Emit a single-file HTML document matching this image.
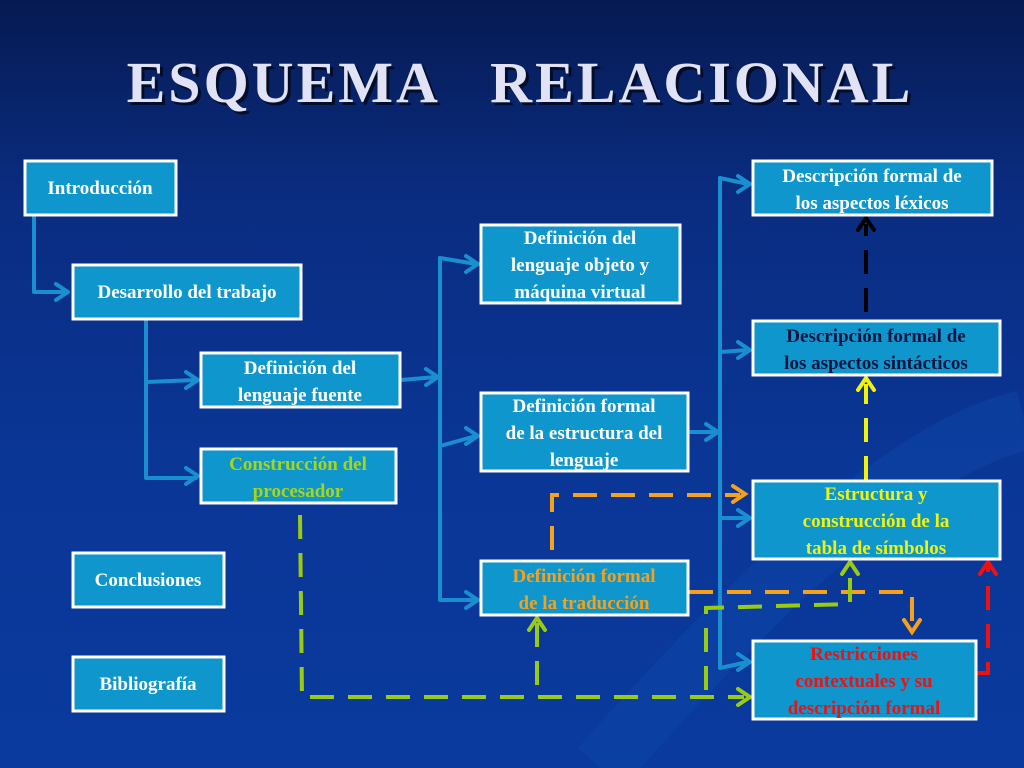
<!DOCTYPE html>
<html><head><meta charset="utf-8"><style>
html,body{margin:0;padding:0;width:1024px;height:768px;overflow:hidden}
body{background:linear-gradient(180deg,#061a52 0%,#0a2c80 25%,#0a3696 60%,#0a3a9e 100%)}
svg{position:absolute;left:0;top:0}
text{font-family:"Liberation Serif",serif;font-weight:bold}
</style></head><body>
<svg width="1024" height="768" viewBox="0 0 1024 768">
<path d="M600,768 C750,600 900,450 1024,420" stroke="#0c45a8" stroke-width="60" fill="none" opacity="0.5"/>
<text x="520" y="102" text-anchor="middle" font-size="58" fill="#000" opacity="0.6" letter-spacing="3" transform="translate(3,3)" xml:space="preserve">ESQUEMA   RELACIONAL</text>
<text x="520" y="102" text-anchor="middle" font-size="58" fill="#e2e2f6" letter-spacing="3" xml:space="preserve">ESQUEMA   RELACIONAL</text>

<g stroke="#1a8fd0" stroke-width="4" fill="none" stroke-linejoin="round" stroke-linecap="round">
<path d="M34,216 V292 H66"/><path d="M56,284 L68,292 L56,300"/>
<path d="M146,320 V478 H196"/><path d="M146,382 L196,380"/>
<path d="M186,372 L198,380 L186,388"/><path d="M186,468 L198,476 L186,484"/>
<path d="M401,380 L436,377"/><path d="M426,369 L438,377 L426,385"/>
<path d="M440,258 V600 H476"/><path d="M440,258 L476,264"/><path d="M440,446 L476,436"/>
<path d="M466,256 L478,264 L466,272"/><path d="M466,428 L478,436 L466,444"/><path d="M466,592 L478,600 L466,608"/>
<path d="M689,432 H716"/><path d="M706,424 L718,432 L706,440"/>
<path d="M720,178 V668 L748,662"/><path d="M720,178 L748,184"/><path d="M720,352 L748,350"/><path d="M720,518 L748,518"/>
<path d="M738,176 L750,184 L738,192"/><path d="M738,342 L750,350 L738,358"/><path d="M738,510 L750,518 L738,526"/><path d="M738,654 L750,662 L738,670"/>
</g>

<g stroke-width="4" fill="none" stroke-dasharray="24,14">
<path d="M552,550 V495 H740" stroke="#f7a01a"/>
<path d="M689,592 H912 V628" stroke="#f7a01a"/>
<path d="M300,515 L302,697 H744" stroke="#99cc10"/>
<path d="M537,685 V622" stroke="#99cc10"/>
<path d="M706,690 V608 L850,604 V566" stroke="#99cc10"/>
<path d="M866,480 V384" stroke="#f2f20a"/>
<path d="M866,312 V224" stroke="#000"/>
<path d="M975,673 H988 V566" stroke="#ee1111"/>
</g>
<g stroke-width="4" fill="none" stroke-linecap="round">
<path d="M733,486 L745,494 L733,502" stroke="#f7a01a"/>
<path d="M904,620 L912,632 L920,620" stroke="#f7a01a"/>
<path d="M738,689 L750,697 L738,705" stroke="#99cc10"/>
<path d="M529,630 L537,618 L545,630" stroke="#99cc10"/>
<path d="M842,574 L850,562 L858,574" stroke="#99cc10"/>
<path d="M858,390 L866,378 L874,390" stroke="#f2f20a"/>
<path d="M858,230 L866,218 L874,230" stroke="#000"/>
<path d="M980,574 L988,562 L996,574" stroke="#ee1111"/>
</g>

<g fill="#0f96cc" stroke="#fff" stroke-width="3">
<rect x="25" y="161" width="151" height="54"/>
<rect x="73" y="265" width="228" height="54"/>
<rect x="201" y="353" width="199" height="54"/>
<rect x="201" y="449" width="195" height="54"/>
<rect x="73" y="553" width="151" height="54"/>
<rect x="73" y="657" width="151" height="54"/>
<rect x="481" y="225" width="199" height="78"/>
<rect x="481" y="393" width="207" height="78"/>
<rect x="481" y="561" width="207" height="54"/>
<rect x="753" y="161" width="239" height="54"/>
<rect x="753" y="321" width="247" height="54"/>
<rect x="753" y="481" width="247" height="78"/>
<rect x="753" y="641" width="223" height="78"/>
</g>

<g font-size="19" text-anchor="middle" fill="#fff">
<text x="100" y="194">Introducción</text>
<text x="187" y="298">Desarrollo del trabajo</text>
<text x="300" y="374">Definición del</text><text x="300" y="401">lenguaje fuente</text>
<text x="298" y="470" fill="#a6d51a">Construcción del</text><text x="298" y="497" fill="#a6d51a">procesador</text>
<text x="148" y="586">Conclusiones</text>
<text x="148" y="690">Bibliografía</text>
<text x="580" y="244">Definición del</text><text x="580" y="271">lenguaje objeto y</text><text x="580" y="298">máquina virtual</text>
<text x="584" y="412">Definición formal</text><text x="584" y="439">de la estructura del</text><text x="584" y="466">lenguaje</text>
<text x="584" y="582" fill="#f7a01a">Definición formal</text><text x="584" y="609" fill="#f7a01a">de la traducción</text>
<text x="872" y="182">Descripción formal de</text><text x="872" y="209">los aspectos léxicos</text>
<text x="876" y="342" fill="#081440">Descripción formal de</text><text x="876" y="369" fill="#081440">los aspectos sintácticos</text>
<text x="876" y="500" fill="#f2f20a">Estructura y</text><text x="876" y="527" fill="#f2f20a">construcción de la</text><text x="876" y="554" fill="#f2f20a">tabla de símbolos</text>
<text x="864" y="660" fill="#ee1111">Restricciones</text><text x="864" y="687" fill="#ee1111">contextuales y su</text><text x="864" y="714" fill="#ee1111">descripción formal</text>
</g>
</svg>
</body></html>
